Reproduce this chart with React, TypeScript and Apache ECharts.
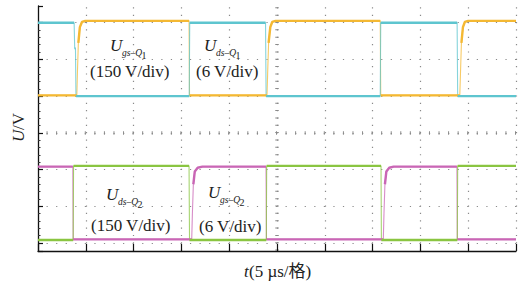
import React, { useEffect, useRef } from "react";
import * as echarts from "echarts";

// time axis: µs, 5 µs per division, 10 divisions
const timeMin = 0;
const timeMax = 50;
const timeStep = 5;
// vertical axis in divisions
const divMin = 0;
const divMax = 6;

// top pair (Q1)
const ugsQ1: [number, number][] = [
  [0, 4.02], [4.06, 4.02], [4.12, 4.6], [4.22, 5.45], [4.38, 5.88], [4.6, 6.02], [4.95, 6.05],
  [15.8, 6.05], [15.85, 4.02],
  [23.95, 4.02], [24.02, 4.6], [24.12, 5.45], [24.3, 5.88], [24.5, 6.02], [24.85, 6.05],
  [35.8, 6.05], [35.85, 4.02],
  [44.12, 4.02], [44.19, 4.6], [44.29, 5.45], [44.45, 5.88], [44.65, 6.02], [45.0, 6.05],
  [50, 6.05],
];
const udsQ1: [number, number][] = [
  [0, 6.0], [3.78, 6.0], [3.84, 5.3], [3.92, 5.3], [3.97, 4.0],
  [15.82, 4.0], [15.87, 6.0],
  [23.8, 6.0], [23.86, 4.0],
  [35.8, 4.0], [35.85, 6.0],
  [43.84, 6.0], [43.9, 4.0],
  [50, 4.0],
];
// bottom pair (Q2)
const udsQ2: [number, number][] = [
  [0, 0.08], [3.68, 0.08], [3.72, 2.1],
  [15.8, 2.1], [15.85, 0.08],
  [23.88, 0.08], [23.92, 2.1],
  [35.88, 2.1], [35.92, 0.08],
  [43.86, 0.08], [43.9, 2.1],
  [50, 2.1],
];
const ugsQ2: [number, number][] = [
  [0, 2.08], [3.64, 2.08], [3.68, 0.1],
  [16.08, 0.1], [16.15, 0.8], [16.25, 1.6], [16.4, 1.95], [16.7, 2.05], [17.2, 2.08],
  [23.85, 2.08], [23.9, 0.1],
  [36.12, 0.1], [36.19, 0.8], [36.29, 1.6], [36.44, 1.95], [36.74, 2.05], [37.2, 2.08],
  [43.82, 2.08], [43.86, 0.1],
  [50, 0.1],
];

const FONT = '"Liberation Serif", "Times New Roman", "Noto Sans CJK SC", serif';

// keep only the flat / slow parts of a trace (steep edges drawn thin separately)
function levelParts(pts: [number, number][]) {
  const out: (number | null)[][] = [];
  let lastIdx = -1;
  for (let i = 0; i < pts.length - 1; i++) {
    const [t0, v0] = pts[i];
    const [t1, v1] = pts[i + 1];
    const steep = Math.abs(v1 - v0) / Math.max(t1 - t0, 1e-6) > 5;
    if (!steep) {
      if (lastIdx !== i) {
        if (out.length) out.push([t0, null]);
        out.push([t0, v0]);
      }
      out.push([t1, v1]);
      lastIdx = i + 1;
    }
  }
  return out;
}

function traceSeries(name: string, pts: [number, number][], color: string) {
  return [
    {
      type: "line",
      name: name + "-edge",
      xAxisIndex: 1,
      yAxisIndex: 1,
      data: pts,
      symbol: "none",
      clip: false,
      lineStyle: { color, width: 1.1, opacity: 0.75 },
      z: 3,
    },
    {
      type: "line",
      name,
      xAxisIndex: 1,
      yAxisIndex: 1,
      data: levelParts(pts),
      symbol: "none",
      clip: false,
      lineStyle: { color, width: 2.4 },
      z: 4,
    },
  ];
}

function txt(x: number, y: number, text: string, size: number, italic = false) {
  return {
    type: "text",
    x,
    y,
    silent: true,
    style: {
      text,
      fill: "#222",
      font: `${italic ? "italic " : ""}${size}px ${FONT}`,
      textAlign: "left",
      textVerticalAlign: "middle",
      align: "left",
      verticalAlign: "middle",
    },
  };
}

// U with subscript "xs–Qn"
function symbolLabel(x: number, y: number, sub: string, digit: string) {
  return {
    type: "group",
    x,
    y,
    children: [
      txt(0, 0, "U", 17, true),
      txt(12, 7.5, sub + "\u2013Q", 9.5, true),
      txt(31.5, 10.5, digit, 10),
    ],
  };
}

export default function App() {
  const ref = useRef<HTMLDivElement>(null);
  useEffect(() => {
    if (!ref.current) return;
    document.body.style.margin = "0";
    const chart = echarts.init(ref.current, undefined, { renderer: "svg" });
    const dotH = { color: "#8a8a8a", width: 1.2, type: [1.2, 8.36], dashOffset: 0.6 };
    const dotV = { color: "#8a8a8a", width: 1.2, type: [1.2, 6.14], dashOffset: 5.92 };
    chart.setOption({
      animation: false,
      backgroundColor: "#fff",
      grid: [
        { left: 38, right: 10, top: 6, bottom: 32 },
        { left: 38, right: 10, top: 22.7, bottom: 40 },
      ],
      xAxis: [
        {
          type: "value",
          gridIndex: 0,
          min: timeMin,
          max: timeMax,
          interval: timeStep,
          axisLine: { show: true, lineStyle: { color: "#111", width: 1.3 } },
          axisTick: { show: true, inside: true, length: 7, lineStyle: { color: "#111", width: 1.2 } },
          axisLabel: { show: false },
          splitLine: { show: true, showMinLine: false, lineStyle: dotV },
        },
        {
          type: "value",
          gridIndex: 1,
          min: timeMin,
          max: timeMax,
          interval: timeStep,
          axisLine: { show: false },
          axisTick: { show: false },
          axisLabel: { show: false },
          splitLine: { show: false },
        },
        {
          type: "value",
          gridIndex: 0,
          min: timeMin,
          max: timeMax,
          interval: timeMax / 2,
          axisLine: { show: false },
          axisTick: { show: false },
          axisLabel: { show: false },
          splitLine: {
            show: true,
            showMinLine: false,
            showMaxLine: false,
            lineStyle: { color: "#8a8a8a", width: 3.5, type: [1, 6.34], dashOffset: 5.82 },
          },
        },
      ],
      yAxis: [
        {
          type: "value",
          gridIndex: 0,
          min: 0,
          max: 1,
          interval: 1,
          axisLine: { show: true, lineStyle: { color: "#111", width: 1.3 } },
          axisTick: { show: true, inside: true, length: 5, lineStyle: { color: "#111", width: 1.2 } },
          axisLabel: { show: false },
          splitLine: { show: false },
        },
        {
          type: "value",
          gridIndex: 1,
          min: divMin,
          max: divMax,
          interval: 1,
          axisLine: { show: false },
          axisTick: { show: true, inside: true, length: 5, lineStyle: { color: "#111", width: 1.2 } },
          minorTick: { show: true, splitNumber: 5, length: 2.5, lineStyle: { color: "#333", width: 1 } },
          axisLabel: { show: false },
          splitLine: { show: true, lineStyle: dotH },
        },
        {
          type: "value",
          gridIndex: 1,
          position: "left",
          min: divMin,
          max: divMax,
          interval: divMax / 2,
          axisLine: { show: false },
          axisTick: { show: false },
          axisLabel: { show: false },
          splitLine: {
            show: true,
            showMinLine: false,
            showMaxLine: false,
            lineStyle: { color: "#8a8a8a", width: 3.5, type: [1, 8.56], dashOffset: 0.5 },
          },
        },
      ],
      series: [
        ...traceSeries("Ugs-Q1", ugsQ1, "#F4B832"),
        ...traceSeries("Uds-Q1", udsQ1, "#5EC5CF"),
        ...traceSeries("Ugs-Q2", ugsQ2, "#C966B5"),
        ...traceSeries("Uds-Q2", udsQ2, "#8AC541"),
      ],
      graphic: [
        // annotations, top
        symbolLabel(110, 45, "gs", "1"),
        txt(90, 71, "(150 V/div)", 17),
        symbolLabel(204, 45, "ds", "1"),
        txt(196, 71.5, "(6 V/div)", 17),
        // annotations, bottom
        symbolLabel(106, 194, "ds", "2"),
        txt(91, 225, "(150 V/div)", 17),
        symbolLabel(208, 192, "gs", "2"),
        txt(199, 226, "(6 V/div)", 17),
        // axis titles
        txt(244, 271, "t", 17, true),
        txt(249, 271, "(5 \u00b5s/\u683c)", 17),
        {
          type: "group",
          x: 18,
          y: 142,
          rotation: Math.PI / 2,
          children: [txt(0, 0, "U", 17, true), txt(12, 0, "/V", 17)],
        },
      ],
    });
    return () => chart.dispose();
  }, []);
  return <div ref={ref} style={{ width: 526, height: 283 }} />;
}
